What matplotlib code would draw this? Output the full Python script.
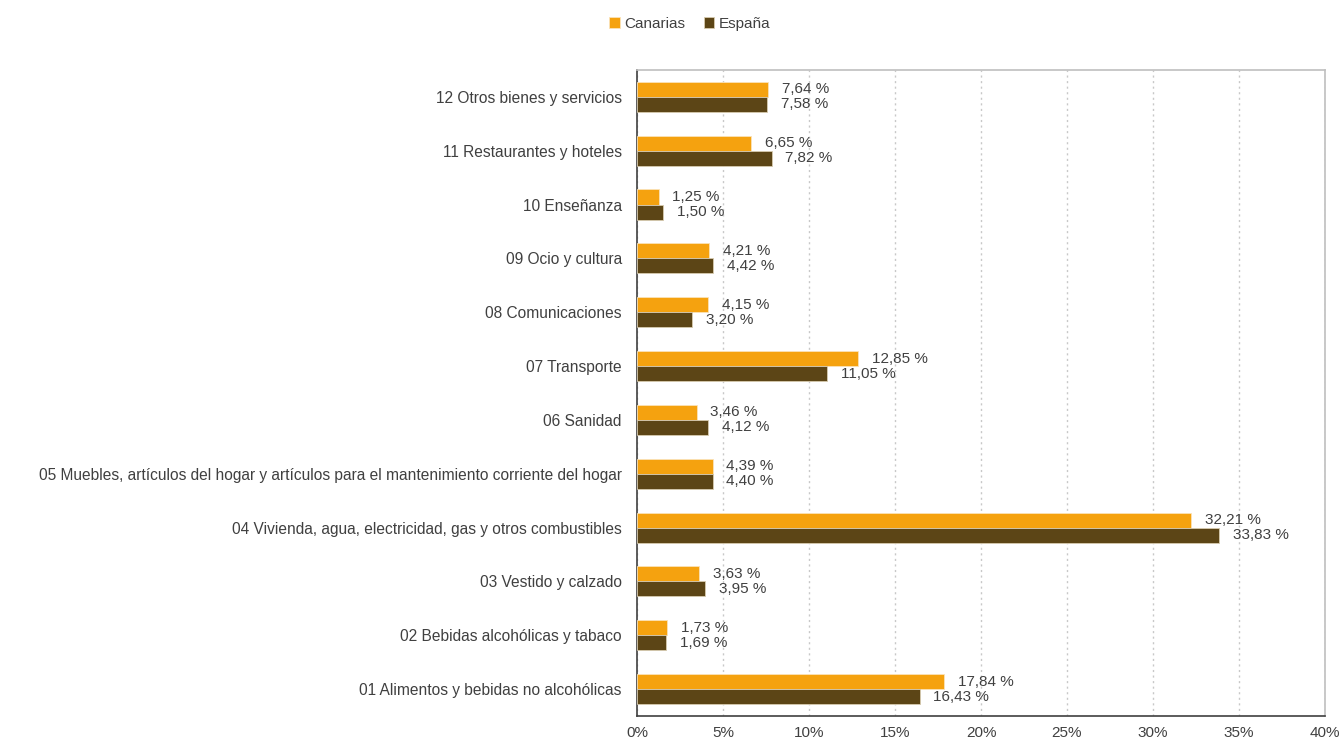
import matplotlib.pyplot as plt
import numpy as np

plt.rcParams['font.family'] = ['Liberation Sans', 'DejaVu Sans']

# Data
categories = [
    '01 Alimentos y bebidas no alcohólicas',
    '02 Bebidas alcohólicas y tabaco',
    '03 Vestido y calzado',
    '04 Vivienda, agua, electricidad, gas y otros combustibles',
    '05 Muebles, artículos del hogar y artículos para el mantenimiento corriente del hogar',
    '06 Sanidad',
    '07 Transporte',
    '08 Comunicaciones',
    '09 Ocio y cultura',
    '10 Enseñanza',
    '11 Restaurantes y hoteles',
    '12 Otros bienes y servicios',
]
canarias = [17.84, 1.73, 3.63, 32.21, 4.39, 3.46, 12.85, 4.15, 4.21, 1.25, 6.65, 7.64]
espana = [16.43, 1.69, 3.95, 33.83, 4.40, 4.12, 11.05, 3.20, 4.42, 1.50, 7.82, 7.58]
x_ticks = [0, 5, 10, 15, 20, 25, 30, 35, 40]

col_can = '#F5A20F'
col_esp = '#5C4516'
txt_col = '#404040'

fig = plt.figure(figsize=(13.42, 7.44), dpi=100)
ax = fig.add_axes([0.4747, 0.0376, 0.9873 - 0.4747, 0.906 - 0.0376])

y = np.arange(len(categories))
h = 0.28
b1 = ax.barh(y + h / 2, canarias, height=h, color=col_can, edgecolor='#FBE3B8', linewidth=0.6,
             label='Canarias', zorder=3)
b2 = ax.barh(y - h / 2, espana, height=h, color=col_esp, edgecolor='#D8CBB0', linewidth=0.6,
             label='España', zorder=3)

# value labels with decimal comma
for bars, vals in ((b1, canarias), (b2, espana)):
    for bar, v in zip(bars, vals):
        ax.text(v + 0.8, bar.get_y() + bar.get_height() / 2,
                f'{v:.2f}'.replace('.', ',') + ' %',
                ha='left', va='center', fontsize=11, color=txt_col, zorder=4)

ax.set_xlim(0, 40)
ax.set_ylim(-0.5, len(categories) - 0.5)
ax.set_xticks(x_ticks)
ax.set_xticklabels([f'{t}%' for t in x_ticks], fontsize=11, color=txt_col)
ax.set_yticks(y)
ax.set_yticklabels(categories, fontsize=11.2, color=txt_col)
ax.tick_params(axis='both', length=0)
ax.tick_params(axis='y', pad=11)
ax.tick_params(axis='x', pad=7)

ax.grid(axis='x', linestyle=(0, (1.5, 2.5)), color='#C8C8C8', linewidth=1, zorder=0)
ax.set_axisbelow(True)

ax.spines['left'].set_color('#404040')
ax.spines['bottom'].set_color('#404040')
ax.spines['top'].set_color('#BFBFBF')
ax.spines['right'].set_color('#BFBFBF')
for s in ax.spines.values():
    s.set_linewidth(1.2)

fig.legend(handles=[b1, b2], labels=['Canarias', 'España'], loc='center',
           bbox_to_anchor=(0.514, 0.968), ncol=2, frameon=False, fontsize=11,
           handlelength=0.7, handleheight=0.7, handletextpad=0.3, columnspacing=1.2,
           labelcolor=txt_col)

fig.savefig('out.png', dpi=100, facecolor='white')
